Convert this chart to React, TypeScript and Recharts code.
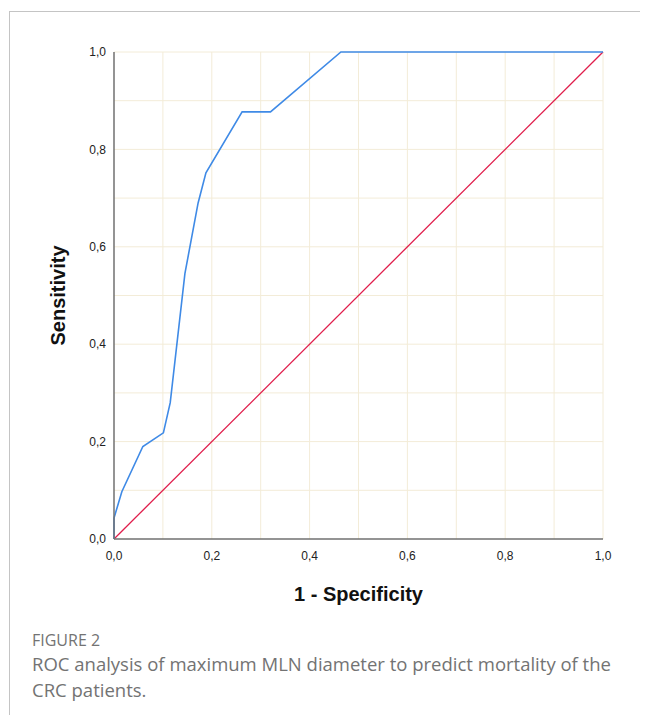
import { LineChart, Line, XAxis, YAxis, CartesianGrid } from 'recharts'

// ROC curve points (1 - specificity, sensitivity)
const rocX = [0, 0, 0.016, 0.059, 0.101, 0.115, 0.145, 0.172, 0.188, 0.262, 0.32, 0.464, 1]
const rocY = [0, 0.043, 0.097, 0.19, 0.218, 0.28, 0.545, 0.69, 0.752, 0.877, 0.877, 1, 1]

// reference (chance) line
const refX = [0, 1]
const refY = [0, 1]

const tickValues = [0, 0.2, 0.4, 0.6, 0.8, 1]
const gridValues = [0.1, 0.2, 0.3, 0.4, 0.5, 0.6, 0.7, 0.8, 0.9, 1]

const rocData = rocX.map((x, i) => ({ x, y: rocY[i] }))
const refData = refX.map((x, i) => ({ x, y: refY[i] }))

const fmt = (v: number) => v.toFixed(1).replace('.', ',')

const tickStyle = { fontSize: 12, fill: '#222', fontFamily: '"Liberation Sans", Arial, sans-serif' }
const titleStyle = { fontSize: 20, fontWeight: 700, fill: '#111', fontFamily: '"Liberation Sans", Arial, sans-serif' }

export default function App() {
  return (
    <div style={{ position: 'relative', width: 640, height: 707, overflow: 'hidden' }}>
      <div
        style={{
          position: 'absolute',
          left: 1,
          top: 3,
          width: 700,
          height: 800,
          borderTop: '1px solid #c4c4c4',
          borderLeft: '1px solid #c4c4c4',
        }}
      />
      <div style={{ position: 'absolute', left: 0, top: 0 }}>
        <LineChart width={640} height={600} margin={{ top: 44, right: 45, left: 40, bottom: 39 }}>
          <CartesianGrid
            stroke="#f3ecd8"
            verticalValues={gridValues}
            horizontalValues={gridValues}
          />
          <XAxis
            type="number"
            dataKey="x"
            domain={[0, 1]}
            ticks={tickValues}
            tickFormatter={fmt}
            tick={tickStyle}
            tickLine={false}
            tickMargin={6}
            axisLine={{ stroke: '#707070', strokeWidth: 1.5 }}
            height={30}
            allowDuplicatedCategory={false}
            label={{ value: '1 - Specificity', position: 'bottom', offset: 18, style: titleStyle }}
          />
          <YAxis
            type="number"
            dataKey="y"
            domain={[0, 1]}
            ticks={tickValues}
            tickFormatter={fmt}
            tick={tickStyle}
            tickLine={false}
            axisLine={{ stroke: '#707070', strokeWidth: 1.5 }}
            width={66}
            label={{
              value: 'Sensitivity',
              angle: -90,
              position: 'insideLeft',
              offset: 10,
              style: { ...titleStyle, textAnchor: 'middle' },
            }}
          />
          <Line
            data={refData}
            dataKey="y"
            type="linear"
            stroke="#e01e4c"
            strokeWidth={1.3}
            dot={false}
            isAnimationActive={false}
          />
          <Line
            data={rocData}
            dataKey="y"
            type="linear"
            stroke="#3f8ae6"
            strokeWidth={1.6}
            dot={false}
            isAnimationActive={false}
          />
        </LineChart>
      </div>
      <div
        style={{
          position: 'absolute',
          left: 24,
          top: 621,
          width: 596,
          fontFamily: '"Open Sans", sans-serif',
          color: '#737373',
        }}
      >
        <div style={{ fontSize: 16, lineHeight: '22px' }}>FIGURE 2</div>
        <div style={{ fontSize: 18.5, lineHeight: '26px' }}>
          ROC analysis of maximum MLN diameter to predict mortality of the CRC patients.
        </div>
      </div>
    </div>
  )
}
